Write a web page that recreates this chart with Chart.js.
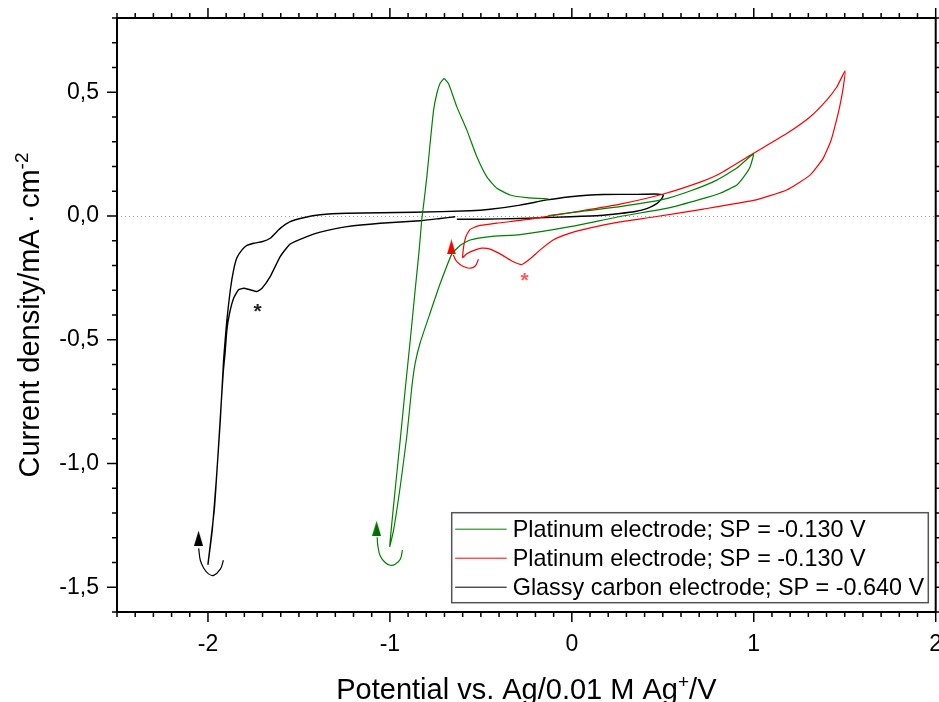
<!DOCTYPE html>
<html>
<head>
<meta charset="utf-8">
<script src="https://cdn.jsdelivr.net/npm/chart.js@4.4.1/dist/chart.umd.min.js"></script>
<style>
  html, body { margin: 0; padding: 0; background: #fff; }
  canvas { display: block; }
</style>
</head>
<body>
<canvas id="cvChart" width="939" height="702"></canvas>
<script>
const FONT = "'Liberation Sans', Arial, sans-serif";

// legend texts, same order as the datasets below
const seriesLabels = [
  'Platinum electrode; SP = -0.130 V',
  'Platinum electrode; SP = -0.130 V',
  'Glassy carbon electrode; SP = -0.640 V'
];

// Pt, scan to +1.0 V
const greenX = [-0.130, 0.046, 0.265, 0.502, 0.650, 0.797, 0.907, 0.998, 0.980, 0.952, 0.907, 0.815, 0.705, 0.540, 0.265, -0.009, -0.284, -0.449, -0.559, -0.614, -0.659, -0.724, -0.779, -0.834, -0.861, -0.879, -0.907, -0.943, -0.979, -1.001, -0.971, -0.943, -0.916, -0.888, -0.861, -0.839, -0.825, -0.815, -0.797, -0.779, -0.760, -0.742, -0.724, -0.702, -0.678, -0.632, -0.577, -0.522, -0.467, -0.412, -0.339, -0.247, -0.129];
const greenY = [0.002, 0.018, 0.038, 0.067, 0.101, 0.145, 0.194, 0.250, 0.199, 0.165, 0.125, 0.092, 0.067, 0.034, -0.002, -0.043, -0.075, -0.083, -0.097, -0.119, -0.153, -0.274, -0.392, -0.513, -0.594, -0.688, -0.890, -1.092, -1.266, -1.335, -1.105, -0.903, -0.702, -0.500, -0.298, -0.137, -0.016, 0.044, 0.158, 0.293, 0.427, 0.495, 0.536, 0.555, 0.535, 0.441, 0.347, 0.239, 0.158, 0.112, 0.085, 0.074, 0.069];

// Pt, scan to +1.5 V
const redX = [-0.601, -0.595, -0.581, -0.559, -0.515, -0.412, -0.229, 0.046, 0.265, 0.503, 0.705, 0.815, 0.998, 1.181, 1.309, 1.401, 1.456, 1.502, 1.491, 1.474, 1.452, 1.425, 1.382, 1.309, 1.181, 0.998, 0.723, 0.448, 0.265, 0.101, -0.009, -0.103, -0.174, -0.229, -0.275, -0.321, -0.385, -0.449, -0.495, -0.541, -0.577, -0.601];
const redY = [-0.169, -0.125, -0.081, -0.054, -0.040, -0.029, -0.013, 0.020, 0.048, 0.089, 0.137, 0.172, 0.253, 0.333, 0.400, 0.468, 0.521, 0.586, 0.516, 0.448, 0.379, 0.306, 0.234, 0.165, 0.105, 0.063, 0.028, -0.004, -0.024, -0.048, -0.069, -0.097, -0.137, -0.173, -0.196, -0.185, -0.157, -0.134, -0.130, -0.140, -0.153, -0.169];

// glassy carbon
const blackX = [-0.632, -0.504, -0.284, -0.009, 0.155, 0.265, 0.348, 0.412, 0.467, 0.495, 0.503,
  0.458, 0.357, 0.174, 0.082, -0.009, -0.137, -0.284, -0.449, -0.559, -0.870, -1.236, -1.383, -1.475, -1.548, -1.603, -1.658, -1.703, -1.749, -1.786, -1.813, -1.841, -1.859, -1.877, -1.896, -1.914, -1.932, -1.954, -1.976, -2.000,
  -1.965, -1.943, -1.926, -1.915, -1.906, -1.896, -1.881, -1.859, -1.832, -1.804, -1.768, -1.731, -1.703, -1.658, -1.603, -1.548, -1.456, -1.383, -1.236, -1.053, -0.834, -0.724, -0.641];
const blackY = [-0.013, -0.013, -0.010, -0.003, 0.002, 0.010, 0.018, 0.030, 0.050, 0.071, 0.085,
  0.089, 0.0875, 0.087, 0.084, 0.078, 0.065, 0.044, 0.027, 0.021, 0.015, 0.011, 0.005, -0.007, -0.023, -0.050, -0.090, -0.104, -0.110, -0.119, -0.137, -0.169, -0.218, -0.298, -0.419, -0.581, -0.823, -1.065, -1.266, -1.407,
  -1.185, -0.944, -0.742, -0.621, -0.554, -0.460, -0.392, -0.332, -0.298, -0.292, -0.298, -0.305, -0.292, -0.245, -0.164, -0.113, -0.083, -0.065, -0.043, -0.029, -0.019, -0.010, -0.003];

// curved direction arrows
const hookBlackX = [-1.915, -1.932, -1.969, -1.997, -2.023, -2.042, -2.051];
const hookBlackY = [-1.391, -1.427, -1.452, -1.446, -1.423, -1.391, -1.343];
const hookGreenX = [-0.931, -0.943, -0.971, -0.998, -1.026, -1.053, -1.066, -1.070];
const hookGreenY = [-1.350, -1.387, -1.407, -1.411, -1.400, -1.374, -1.333, -1.298];
const hookRedX = [-0.513, -0.531, -0.559, -0.596, -0.632, -0.652];
const hookRedY = [-0.175, -0.202, -0.211, -0.204, -0.184, -0.157];
const arrowX = [-2.052, -1.073, -0.662];
const arrowY = [-1.302, -1.262, -0.125];

// asterisk marks
const starX = [-1.727, -0.260];
const starY = [-0.363, -0.240];

const GREEN = '#008000';
const RED = '#ff0000';
const BLACK = '#000000';

function pts(xs, ys) {
  return xs.map((v, i) => ({x: v, y: ys[i]}));
}

function arrowImg(color) {
  const c = document.createElement('canvas');
  c.width = 9; c.height = 15;
  const g = c.getContext('2d');
  g.fillStyle = color;
  g.beginPath();
  g.moveTo(4.5, 0); g.lineTo(9, 15); g.lineTo(0, 15);
  g.closePath(); g.fill();
  return c;
}

function curve(label, xs, ys, color, w) {
  return {
    label: label, data: pts(xs, ys), showLine: true,
    borderColor: color, backgroundColor: color, borderWidth: w,
    pointRadius: 0, tension: 0.15, inLegend: true
  };
}
function hook(xs, ys, color) {
  return {
    data: pts(xs, ys), showLine: true, borderColor: color, borderWidth: 1.2,
    pointRadius: 0, tension: 0.4, inLegend: false
  };
}

const datasets = [
  curve(seriesLabels[0], greenX, greenY, GREEN, 1.2),
  curve(seriesLabels[1], redX, redY, RED, 1.2),
  curve(seriesLabels[2], blackX, blackY, BLACK, 1.4),
  hook(hookBlackX, hookBlackY, BLACK),
  hook(hookGreenX, hookGreenY, GREEN),
  hook(hookRedX, hookRedY, RED),
  {
    data: pts(arrowX, arrowY), showLine: false, inLegend: false,
    pointStyle: [arrowImg(BLACK), arrowImg('#007000'), arrowImg(RED)],
    pointRadius: 6
  }
];

function drawParts(ctx, parts, x, y, size) {
  // parts: [text, isSuperscript]
  const supSize = Math.round(size * 0.66);
  let total = 0;
  parts.forEach(p => {
    ctx.font = (p[1] ? supSize : size) + 'px ' + FONT;
    total += ctx.measureText(p[0]).width;
  });
  let cx = x - total / 2;
  ctx.textAlign = 'left';
  ctx.textBaseline = 'alphabetic';
  parts.forEach(p => {
    ctx.font = (p[1] ? supSize : size) + 'px ' + FONT;
    ctx.fillText(p[0], cx, p[1] ? y - size * 0.38 : y);
    cx += ctx.measureText(p[0]).width;
  });
}

const framePlugin = {
  id: 'frame',
  beforeDatasetsDraw(chart) {
    const {ctx, chartArea: a, scales: {y}} = chart;
    const y0 = Math.round(y.getPixelForValue(0)) + 0.5;
    ctx.save();
    ctx.strokeStyle = '#9a9a9a';
    ctx.lineWidth = 1;
    ctx.setLineDash([1, 3]);
    ctx.beginPath();
    ctx.moveTo(a.left, y0); ctx.lineTo(a.right, y0);
    ctx.stroke();
    ctx.restore();
  },
  afterDraw(chart) {
    const {ctx, chartArea: a, scales: {x, y}} = chart;
    ctx.save();
    // frame and ticks on all four sides
    ctx.strokeStyle = '#000';
    ctx.lineWidth = 2;
    ctx.strokeRect(a.left, a.top, a.right - a.left, a.bottom - a.top);
    ctx.lineWidth = 1.5;
    ctx.beginPath();
    for (let i = 0; i <= 45; i++) {
      const v = -2.5 + i * 0.1;
      const p = x.getPixelForValue(v);
      const len = Math.abs(v - Math.round(v)) < 1e-6 ? 10 : 5;
      ctx.moveTo(p, a.bottom); ctx.lineTo(p, a.bottom + len);
      ctx.moveTo(p, a.top); ctx.lineTo(p, a.top - len);
    }
    for (let i = 0; i <= 24; i++) {
      const v = -1.6 + i * 0.1;
      const p = y.getPixelForValue(v);
      const len = Math.abs(v * 2 - Math.round(v * 2)) < 1e-6 ? 10 : 5;
      ctx.moveTo(a.left, p); ctx.lineTo(a.left - len, p);
      ctx.moveTo(a.right, p); ctx.lineTo(a.right + len, p);
    }
    ctx.stroke();

    // asterisks
    ctx.textAlign = 'center';
    ctx.textBaseline = 'alphabetic';
    ctx.font = 'bold 21px ' + FONT;
    const starColors = ['#222', '#ff5a5a'];
    starX.forEach((sx, i) => {
      ctx.fillStyle = starColors[i];
      ctx.fillText('*', x.getPixelForValue(sx), y.getPixelForValue(starY[i]) + 12);
    });

    // legend
    const lx = a.right - 484, ly = a.top + 494.7, lw = 476.6, lh = 90;
    ctx.strokeStyle = '#555';
    ctx.lineWidth = 1.5;
    ctx.strokeRect(lx, ly, lw, lh);
    ctx.font = '23.4px ' + FONT;
    ctx.textAlign = 'left';
    ctx.textBaseline = 'middle';
    chart.data.datasets.filter(d => d.inLegend).forEach((d, i) => {
      const ry = ly + 16.5 + i * 29;
      ctx.strokeStyle = d.borderColor;
      ctx.lineWidth = 1;
      ctx.beginPath();
      ctx.moveTo(lx + 3.5, ry); ctx.lineTo(lx + 55, ry);
      ctx.stroke();
      ctx.fillStyle = '#000';
      ctx.fillText(d.label, lx + 61, ry + 1);
    });

    // axis titles
    ctx.fillStyle = '#000';
    drawParts(ctx, [['Potential vs. Ag/0.01 M Ag', false], ['+', true], ['/V', false]],
      (a.left + a.right) / 2, 699, 29);
    ctx.save();
    ctx.translate(39, (a.top + a.bottom) / 2);
    ctx.rotate(-Math.PI / 2);
    drawParts(ctx, [['Current density/mA\u2009·\u2009cm', false], ['-2', true]], 0, 0, 29);
    ctx.restore();
    ctx.restore();
  }
};

new Chart(document.getElementById('cvChart'), {
  type: 'scatter',
  data: { datasets: datasets },
  options: {
    responsive: false,
    animation: false,
    devicePixelRatio: 1,
    layout: { autoPadding: false, padding: { top: 18, right: 3.3, left: 0, bottom: 0 } },
    plugins: {
      legend: { display: false },
      tooltip: { enabled: false }
    },
    scales: {
      x: {
        type: 'linear', min: -2.5, max: 2,
        grid: { display: false, drawTicks: false },
        border: { display: false },
        ticks: {
          stepSize: 1, includeBounds: false, padding: 19,
          color: '#000', font: { family: FONT, size: 23 },
          maxRotation: 0, autoSkip: false
        },
        afterFit(s) { s.height = 90; s.paddingLeft = 0; s.paddingRight = 0; }
      },
      y: {
        type: 'linear', min: -1.6, max: 0.8,
        grid: { display: false, drawTicks: false },
        border: { display: false },
        ticks: {
          stepSize: 0.5, includeBounds: false, padding: 18, autoSkip: false,
          color: '#000', font: { family: FONT, size: 23 },
          callback: v => v.toFixed(1).replace('.', ',')
        },
        afterFit(s) { s.width = 117; s.paddingTop = 0; s.paddingBottom = 0; }
      }
    }
  },
  plugins: [framePlugin]
});
</script>
</body>
</html>
